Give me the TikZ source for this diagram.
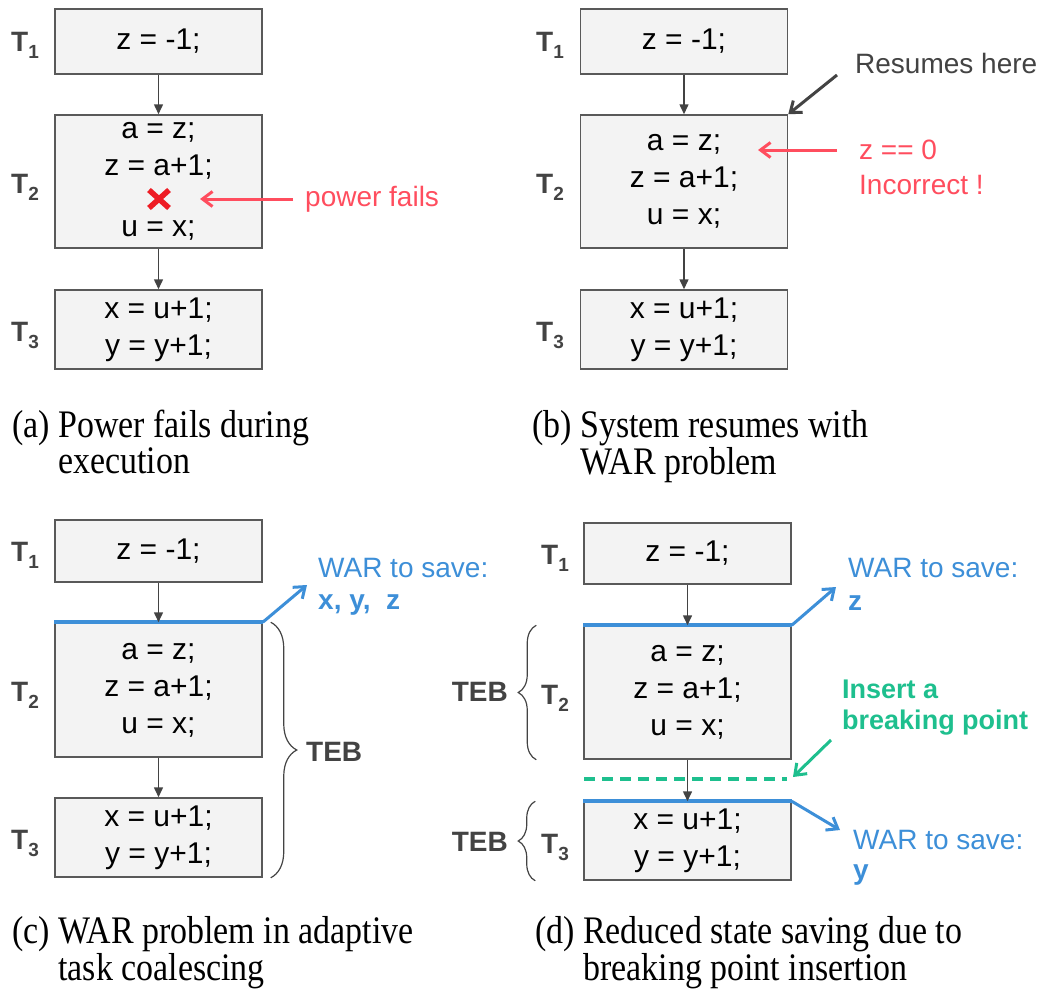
\documentclass[tikz,border=0pt]{standalone}
\usepackage{fontspec}
\setmainfont{Liberation Sans}
\newfontfamily\capfont[FakeStretch=0.87]{Liberation Serif}
\usetikzlibrary{arrows.meta,decorations.pathreplacing}

\definecolor{boxfill}{HTML}{F3F3F3}
\definecolor{boxline}{HTML}{595959}
\definecolor{inkgray}{HTML}{434343}
\definecolor{alertred}{HTML}{FF4D5E}
\definecolor{crossred}{HTML}{EE1C24}
\definecolor{warblue}{HTML}{3D8FD8}
\definecolor{breakgreen}{HTML}{1EBF8E}

% task label: bold T with a lowered index
\newcommand{\tasklbl}[1]{T\raisebox{-7pt}{\fontsize{19}{19}\selectfont #1}}

\begin{document}
\begin{tikzpicture}[x=1pt, y=-1pt,
  taskbox/.style={draw=boxline, fill=boxfill, line width=1.5pt, minimum width=207pt,
    inner sep=0pt, align=center, font=\fontsize{30}{37}\selectfont},
  tlabel/.style={text=inkgray, inner sep=0pt, font=\fontsize{28}{28}\selectfont\bfseries},
  flow/.style={draw=inkgray, line width=1.5pt, -{Triangle[length=10pt,width=9pt]}},
  pointer/.style={line width=3pt, -{Straight Barb[length=10pt,width=15pt]}},
  note/.style={inner sep=0pt, anchor=west, font=\fontsize{28}{28}\selectfont},
  boldnote/.style={inner sep=0pt, anchor=west, font=\fontsize{28}{28}\selectfont\bfseries},
  warline/.style={draw=warblue, line width=4pt},
  teb/.style={draw=inkgray, line width=1.2pt, decorate, decoration={brace, amplitude=#1}},
  caption/.style={inner sep=0pt, anchor=base west, font=\capfont\fontsize{39}{36}\selectfont}
]
\useasboundingbox (0,0) rectangle (1046,990);

% ---------- (a) power failure ----------
\node[taskbox, minimum height=65pt]  (a1) at (158.5,41.5)  {z = -1;};
\node[taskbox, minimum height=133pt] (a2) at (158.5,181.5) {a = z;\\ z = a+1;\\[24pt] u = x;};
\node[taskbox, minimum height=79pt]  (a3) at (158.5,329.5) {x = u+1;\\ y = y+1;};
\node[tlabel] (ta1) at (25,45)  {\tasklbl{1}};
\node[tlabel] (ta2) at (25,187) {\tasklbl{2}};
\node[tlabel] (ta3) at (25,335) {\tasklbl{3}};
\draw[flow] (a1) -- (a2);
\draw[flow] (a2) -- (a3);
\coordinate (fail) at (159,199);
\draw[crossred, line width=5.5pt] (fail) ++(-10,-9) -- ++(20,18)
                                  (fail) ++(-10,9) -- ++(20,-18);
\node[note, text=alertred] (pf) at (305,199) {power fails};
\coordinate (pfTip) at (200,199);
\draw[pointer, alertred, shorten <=12pt] (pf.west) -- (pfTip);
\node[caption] (capa) at (12,437)
  {\begin{tabular}[t]{@{}l@{ }l@{}}(a)&Power fails during\\&execution\end{tabular}};

% ---------- (b) resumption ----------
\node[taskbox, minimum height=65pt]  (b1) at (684,41.5)  {z = -1;};
\node[taskbox, minimum height=133pt] (b2) at (684,181.5) {a = z;\\ z = a+1;\\ u = x;};
\node[taskbox, minimum height=79pt]  (b3) at (684,329.5) {x = u+1;\\ y = y+1;};
\node[tlabel] (tb1) at (550,45)  {\tasklbl{1}};
\node[tlabel] (tb2) at (550,187) {\tasklbl{2}};
\node[tlabel] (tb3) at (550,335) {\tasklbl{3}};
\draw[flow] (b1) -- (b2);
\draw[flow] (b2) -- (b3);
\node[note, text=inkgray] (res) at (855,63) {Resumes here};
\coordinate (resTail) at (837,75);
\draw[pointer, inkgray] (resTail) -- (b2.north east);
\node[note, text=alertred] (zeq) at (859,150) {z == 0};
\node[note, text=alertred] (inc) at (859,185) {Incorrect !};
\coordinate (zTip) at (758,150);
\draw[pointer, alertred, shorten <=22pt] (zeq.west) -- (zTip);
\node[caption] (capb) at (532,437)
  {\begin{tabular}[t]{@{}l@{ }l@{}}(b)&System resumes with\\&WAR problem\end{tabular}};

% ---------- (c) adaptive task coalescing ----------
\node[taskbox, minimum height=62pt]  (c1) at (158.5,551)   {z = -1;};
\node[taskbox, minimum height=134pt] (c2) at (158.5,690)   {a = z;\\ z = a+1;\\ u = x;};
\node[taskbox, minimum height=79pt]  (c3) at (158.5,837.5) {x = u+1;\\ y = y+1;};
\node[tlabel] (tc1) at (25,555) {\tasklbl{1}};
\node[tlabel] (tc2) at (25,695) {\tasklbl{2}};
\node[tlabel] (tc3) at (25,843) {\tasklbl{3}};
\draw[warline] (c2.north west) -- (c2.north east);
\draw[flow] (c1) -- (c2);
\draw[flow] (c2) -- (c3);
\coordinate (cwarTip) at (307,585);
\draw[pointer, warblue] (c2.north east) -- (cwarTip);
\node[note, text=warblue] (cwar) at (318,568) {WAR to save:};
\node[boldnote, text=warblue] (cvars) at (318,605) {x, y,\ \ z};
\draw[teb=26pt] ([xshift=8pt]c2.north east) -- ([xshift=8pt]c3.south east);
\node[boldnote, text=inkgray] (cteb) at (306,752) {TEB};
\node[caption] (capc) at (12,943)
  {\begin{tabular}[t]{@{}l@{ }l@{}}(c)&WAR problem in adaptive\\&task coalescing\end{tabular}};

% ---------- (d) breaking point insertion ----------
\node[taskbox, minimum height=61pt]  (d1) at (687.5,553.5) {z = -1;};
\node[taskbox, minimum height=133pt] (d2) at (687.5,692.5) {a = z;\\ z = a+1;\\ u = x;};
\node[taskbox, minimum height=78pt]  (d3) at (687.5,841)   {x = u+1;\\ y = y+1;};
\node[tlabel] (td1) at (555,558) {\tasklbl{1}};
\node[tlabel] (td2) at (555,698) {\tasklbl{2}};
\node[tlabel] (td3) at (555,847) {\tasklbl{3}};
% breaking point between T2 and T3
\coordinate (bpL) at (584,779);
\coordinate (bpR) at (787,779);
\draw[breakgreen, line width=3.5pt, dash pattern=on 11pt off 7pt] (bpL) -- (bpR);
\draw[warline] (d2.north west) -- (d2.north east);
\draw[warline] (d3.north west) -- (d3.north east);
\draw[flow] (d1) -- (d2);
\draw[flow] (d2) -- (d3);
\coordinate (dwarTip) at (836,587);
\draw[pointer, warblue] (d2.north east) -- (dwarTip);
\node[note, text=warblue] (dwar) at (848,568) {WAR to save:};
\node[boldnote, text=warblue] (dvarz) at (848,603) {z};
\node[boldnote, text=breakgreen, font=\fontsize{27}{27}\selectfont\bfseries] (ins1) at (842,689) {Insert a};
\node[boldnote, text=breakgreen, font=\fontsize{27}{27}\selectfont\bfseries] (ins2) at (842,723) {breaking point};
\coordinate (bpTail) at (831,740);
\coordinate (bpTip) at (793,777);
\draw[pointer, breakgreen] (bpTail) -- (bpTip);
\coordinate (ywarTip) at (840,830);
\draw[pointer, warblue] (d3.north east) -- (ywarTip);
\node[note, text=warblue] (ywar) at (853,840) {WAR to save:};
\node[boldnote, text=warblue] (dvary) at (853,875) {y};
\draw[teb=18pt] ([xshift=-47pt]d2.south west) -- ([xshift=-47pt]d2.north west);
\draw[teb=17pt] ([xshift=-48pt]d3.south west) -- ([xshift=-48pt]d3.north west);
\node[boldnote, anchor=east, text=inkgray] (dteb2) at (508,692) {TEB};
\node[boldnote, anchor=east, text=inkgray] (dteb3) at (508,842) {TEB};
\node[caption] (capd) at (535,943)
  {\begin{tabular}[t]{@{}l@{ }l@{}}(d)&Reduced state saving due to\\&breaking point insertion\end{tabular}};
\end{tikzpicture}
\end{document}
